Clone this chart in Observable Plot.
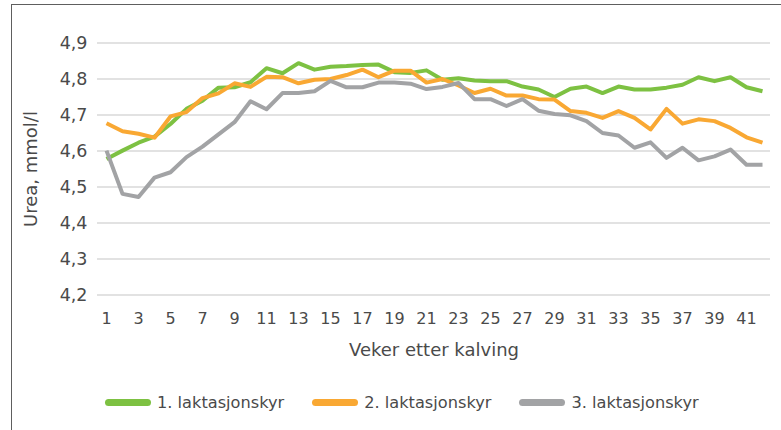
<!DOCTYPE html>
<html>
<head>
<meta charset="utf-8">
<script src="https://cdn.jsdelivr.net/npm/d3@7"></script>
<script src="https://cdn.jsdelivr.net/npm/@observablehq/plot@0.6"></script>
<style>
  html, body { margin: 0; padding: 0; background: #fff; }
  body { width: 781px; height: 430px; position: relative; overflow: hidden;
         font-family: "DejaVu Sans", "Liberation Sans", Arial, sans-serif; }
  #frame { position: absolute; left: 11px; top: 4px; width: 775px; height: 430px;
           border-left: 1.5px solid #5e5e5e; border-top: 1.5px solid #5e5e5e; box-sizing: border-box; }
  #chart { position: absolute; left: 0; top: 0; width: 781px; }
  #legend { display: flex; align-items: center; margin-left: 105px; margin-top: 5px;
            font-size: 16.2px; color: #4a4a4a; height: 24px; }
  .item { display: flex; align-items: center; margin-right: 28px; }
  .sw { width: 46px; height: 7px; border-radius: 4px; margin-right: 6px; }
</style>
</head>
<body>
<div id="frame"></div>
<div id="chart"></div>
<script>
// Categories: weeks after calving
const weeks = [1,2,3,4,5,6,7,8,9,10,11,12,13,14,15,16,17,18,19,20,21,22,23,24,25,26,27,28,29,30,31,32,33,34,35,36,37,38,39,40,41,42];
const weekTicks = [1,3,5,7,9,11,13,15,17,19,21,23,25,27,29,31,33,35,37,39,41];
const yTicks = [4.2,4.3,4.4,4.5,4.6,4.7,4.8,4.9];
const seriesNames = ["1. laktasjonskyr","2. laktasjonskyr","3. laktasjonskyr"];
const seriesColors = ["#7dc142","#f9a833","#a2a3a5"];

// Urea, mmol/l
const lakt1 = [4.578,4.601,4.623,4.640,4.675,4.717,4.740,4.776,4.777,4.791,4.830,4.816,4.844,4.826,4.834,4.836,4.839,4.840,4.819,4.817,4.824,4.798,4.802,4.796,4.794,4.794,4.779,4.771,4.750,4.773,4.779,4.761,4.779,4.771,4.771,4.776,4.784,4.805,4.794,4.805,4.777,4.766];
const lakt2 = [4.677,4.655,4.648,4.637,4.696,4.708,4.747,4.760,4.788,4.778,4.806,4.805,4.788,4.798,4.800,4.811,4.826,4.805,4.823,4.823,4.790,4.800,4.782,4.761,4.773,4.754,4.754,4.744,4.743,4.711,4.706,4.692,4.711,4.692,4.660,4.717,4.676,4.688,4.683,4.664,4.638,4.623];
const lakt3 = [4.601,4.481,4.472,4.526,4.541,4.583,4.612,4.646,4.680,4.738,4.716,4.761,4.761,4.766,4.795,4.777,4.777,4.790,4.790,4.787,4.772,4.778,4.789,4.744,4.744,4.725,4.744,4.712,4.703,4.699,4.683,4.650,4.643,4.609,4.624,4.581,4.609,4.574,4.585,4.604,4.562,4.562];

const allSeries = [lakt1, lakt2, lakt3];
const rows = [];
allSeries.forEach((vals, i) => vals.forEach((v, j) => rows.push({week: weeks[j], value: v, series: seriesNames[i]})));

const fmt = d => d.toFixed(1).replace(".", ",");
const font = '"DejaVu Sans", "Liberation Sans", Arial, sans-serif';

const plot = Plot.plot({
  width: 781,
  height: 385,
  marginLeft: 97,
  marginRight: 11,
  marginTop: 42.5,
  marginBottom: 90.5,
  style: {fontFamily: font, fontSize: "17px", color: "#4a4a4a", background: "transparent", overflow: "visible"},
  x: {type: "point", domain: weeks, padding: 0.5},
  y: {domain: [4.2, 4.9]},
  color: {domain: seriesNames, range: seriesColors},
  marks: [
    Plot.gridY(yTicks, {stroke: "#d9d9d9", strokeOpacity: 1, strokeWidth: 1.6}),
    Plot.axisY(yTicks, {tickSize: 0, tickPadding: 10, tickFormat: fmt, fontSize: 17.5,
      label: "Urea, mmol/l", labelAnchor: "center", labelOffset: 73, labelArrow: "none"}),
    Plot.axisX(weekTicks, {tickSize: 0, tickPadding: 18, fontSize: 16,
      label: "Veker etter kalving", labelAnchor: "center", labelOffset: 61, labelArrow: "none"}),
    Plot.lineY(rows, {x: "week", y: "value", stroke: "series", z: "series", strokeWidth: 4, strokeLinejoin: "round", strokeLinecap: "butt"})
  ]
});
plot.querySelectorAll("g[aria-label='x-axis label'] text, g[aria-label='y-axis label'] text").forEach(t => t.setAttribute("font-size", "18"));
document.getElementById("chart").appendChild(plot);

const legend = document.createElement("div");
legend.id = "legend";
seriesNames.forEach((name, i) => {
  const item = document.createElement("div");
  item.className = "item";
  const sw = document.createElement("span");
  sw.className = "sw";
  sw.style.background = seriesColors[i];
  const lab = document.createElement("span");
  lab.textContent = name;
  item.appendChild(sw); item.appendChild(lab);
  legend.appendChild(item);
});
document.getElementById("chart").appendChild(legend);
</script>
</body>
</html>
